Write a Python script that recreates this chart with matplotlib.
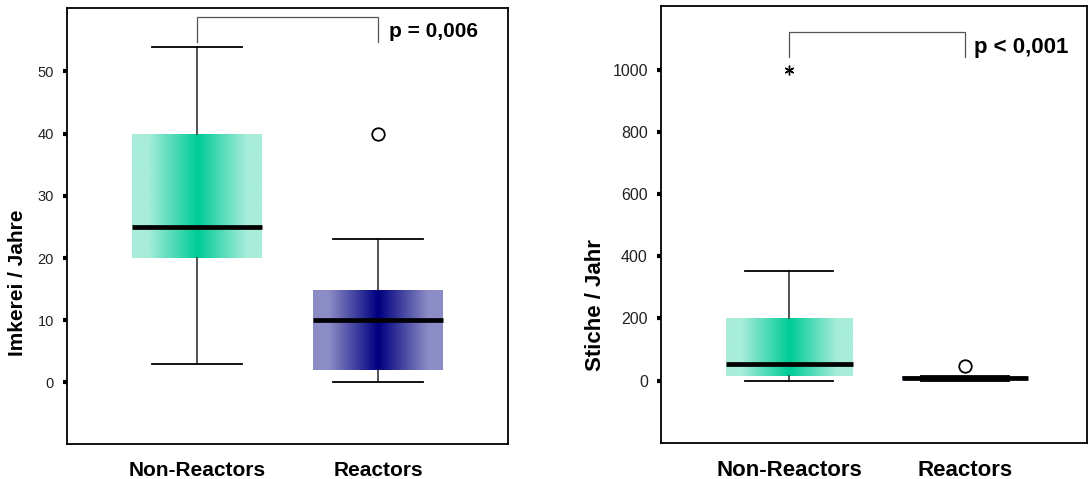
import numpy as np
import matplotlib
matplotlib.use("Agg")
import matplotlib.pyplot as plt
from matplotlib.colors import LinearSegmentedColormap

plt.rcParams['font.family'] = ['Liberation Sans', 'DejaVu Sans']

groups = ["Non-Reactors", "Reactors"]

# left panel: Imkerei / Jahre
imk_whislo = [3, 0]
imk_q1 = [20, 2]
imk_med = [25, 10]
imk_q3 = [40, 14.8]
imk_whishi = [54, 23]
imk_fliers = [[], [40]]
imk_ticks = [0, 10, 20, 30, 40, 50]

# right panel: Stiche / Jahr
st_whislo = [0, 0]
st_q1 = [16, 2]
st_med = [52, 8]
st_q3 = [200, 14]
st_whishi = [354, 14]
st_fliers = [[1000], [48]]
st_ticks = [0, 200, 400, 600, 800, 1000]

green = LinearSegmentedColormap.from_list("g", ["#a8ecda", "#00cc96"])
navy = LinearSegmentedColormap.from_list("b", ["#8c8cc6", "#000080"])

xs = np.linspace(0, 1, 256)
prof = np.clip((0.5 - np.abs(xs - 0.5) - 0.12) / 0.38, 0, 1)
grad = np.tile(prof, (2, 1))

W = 0.72


def panel(ax, whislo, q1, med, q3, whishi, fliers, ticks, ylim, xlim,
          ylabel, lab_xy, bracket, ptext, fs_tick, fs_lab, flier_markers):
    stats = []
    for i in range(len(groups)):
        stats.append(dict(whislo=whislo[i], q1=q1[i], med=med[i], q3=q3[i],
                          whishi=whishi[i], fliers=fliers[i]))
    pos = [1, 2]
    out = ax.bxp(stats, positions=pos, widths=W, patch_artist=True,
                 showfliers=True,
                 boxprops=dict(facecolor="none", linewidth=0),
                 medianprops=dict(color="black", linewidth=3.4, solid_capstyle="butt"),
                 whiskerprops=dict(color="#222222", linewidth=1.1),
                 capprops=dict(color="black", linewidth=1.3),
                 capwidths=0.5)
    for i, (box, cm) in enumerate(zip(out["boxes"], [green, navy])):
        im = ax.imshow(grad, cmap=cm, aspect="auto", interpolation="bilinear",
                       extent=(pos[i] - W / 2, pos[i] + W / 2, q1[i], q3[i]),
                       zorder=1.5)
        im.set_clip_path(box)
    for fl, mk in zip(out["fliers"], flier_markers):
        if mk == "o":
            fl.set(marker="o", markerfacecolor="white", markeredgecolor="black",
                   markersize=9, markeredgewidth=1.3)
        else:
            fl.set(marker=(6, 2, 0), markerfacecolor="black", markeredgecolor="black",
                   markersize=7, markeredgewidth=1.0)
    ax.set_xlim(*xlim)
    ax.set_ylim(*ylim)
    ax.set_yticks(ticks)
    ax.set_xticks(pos)
    ax.set_xticklabels(groups, fontsize=fs_lab, fontweight="bold")
    ax.tick_params(axis="y", direction="out", length=3, width=3, color="black",
                   labelsize=fs_tick, pad=6.5, labelcolor="#222222")
    ax.tick_params(axis="x", length=0, pad=12)
    for s in ax.spines.values():
        s.set_linewidth(1.3)
    ax.set_ylabel(ylabel, fontsize=fs_lab, fontweight="bold")
    ax.yaxis.set_label_coords(*lab_xy)
    ytop, ybot, tx, ty = bracket
    ax.plot([1, 1, 2, 2], [ybot, ytop, ytop, ybot], color="#555555", lw=0.9,
            solid_joinstyle="miter")
    ax.text(tx, ty, ptext, fontsize=fs_lab, fontweight="bold", ha="left",
            va="center")


fig = plt.figure(figsize=(10.89, 4.79), dpi=100)
axL = fig.add_axes([67 / 1089, 35 / 479, 441 / 1089, 436 / 479])
axR = fig.add_axes([661 / 1089, 36 / 479, 426 / 1089, 437 / 479])

panel(axL, imk_whislo, imk_q1, imk_med, imk_q3, imk_whishi, imk_fliers,
      imk_ticks, (-9.9, 60.2), (0.282, 2.718), "Imkerei / Jahre",
      (-0.09, 0.37), (58.8, 54.7, 2.06, 56.5), "p = 0,006",
      10.5, 15, ["o", "o"])
panel(axR, st_whislo, st_q1, st_med, st_q3, st_whishi, st_fliers,
      st_ticks, (-201, 1205), (0.271, 2.693), "Stiche / Jahr",
      (-0.13, 0.316), (1120, 1040, 2.05, 1070), "p < 0,001",
      11.5, 16, ["*", "o"])

fig.savefig("out.png", dpi=100)
